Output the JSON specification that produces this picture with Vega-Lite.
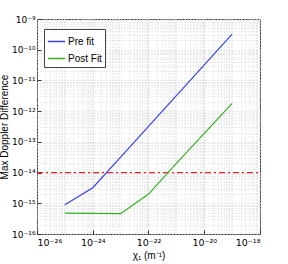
{
  "$schema": "https://vega.github.io/schema/vega-lite/v6.json",
  "autosize": "none",
  "width": 223,
  "height": 215,
  "padding": {"left": 37, "top": 19, "right": 28, "bottom": 30},
  "background": "white",
  "config": {
    "font": "Liberation Sans",
    "view": {"stroke": "#333333", "strokeWidth": 1}
  },
  "datasets": {
    "curves": [
      {"x": 1e-25, "y": 9e-16, "series": "Pre fit"},
      {"x": 1e-24, "y": 3.2e-15, "series": "Pre fit"},
      {"x": 1e-23, "y": 3.2e-14, "series": "Pre fit"},
      {"x": 1e-22, "y": 3.2e-13, "series": "Pre fit"},
      {"x": 1e-21, "y": 3.2e-12, "series": "Pre fit"},
      {"x": 1e-20, "y": 3.2e-11, "series": "Pre fit"},
      {"x": 1e-19, "y": 3.2e-10, "series": "Pre fit"},
      {"x": 1e-25, "y": 4.8e-16, "series": "Post Fit"},
      {"x": 1e-24, "y": 4.7e-16, "series": "Post Fit"},
      {"x": 1e-23, "y": 4.6e-16, "series": "Post Fit"},
      {"x": 1e-22, "y": 2e-15, "series": "Post Fit"},
      {"x": 1e-21, "y": 2e-14, "series": "Post Fit"},
      {"x": 1e-20, "y": 1.9e-13, "series": "Post Fit"},
      {"x": 1e-19, "y": 1.8e-12, "series": "Post Fit"}
    ],
    "threshold": [
      {"x": 1e-26, "y": 1e-14},
      {"x": 1e-18, "y": 1e-14}
    ]
  },
  "layer": [
    {
      "data": {"name": "threshold"},
      "mark": {"type": "line", "color": "#ee2222", "strokeWidth": 1.2, "strokeDash": [6, 3, 2, 3], "clip": true},
      "encoding": {
        "x": {
          "field": "x", "type": "quantitative",
          "scale": {"type": "log", "domain": [1e-26, 1e-18], "nice": false},
          "axis": {
            "title": "χ₁ (m⁻¹)",
            "titleFont": "Liberation Sans", "titleFontSize": 10, "titleFontWeight": "normal", "titleColor": "#000",
            "titlePadding": 0,
            "values": [1e-26, 2e-26, 3e-26, 4e-26, 5e-26, 6e-26, 7e-26, 8e-26, 9e-26,
                       1e-25, 2e-25, 3e-25, 4e-25, 5e-25, 6e-25, 7e-25, 8e-25, 9e-25,
                       1e-24, 2e-24, 3e-24, 4e-24, 5e-24, 6e-24, 7e-24, 8e-24, 9e-24,
                       1e-23, 2e-23, 3e-23, 4e-23, 5e-23, 6e-23, 7e-23, 8e-23, 9e-23,
                       1e-22, 2e-22, 3e-22, 4e-22, 5e-22, 6e-22, 7e-22, 8e-22, 9e-22,
                       1e-21, 2e-21, 3e-21, 4e-21, 5e-21, 6e-21, 7e-21, 8e-21, 9e-21,
                       1e-20, 2e-20, 3e-20, 4e-20, 5e-20, 6e-20, 7e-20, 8e-20, 9e-20,
                       1e-19, 2e-19, 3e-19, 4e-19, 5e-19, 6e-19, 7e-19, 8e-19, 9e-19,
                       1e-18],
            "labelExpr": "(abs(log(datum.value)/LN10 - round(log(datum.value)/LN10)) < 0.01) && (round(-log(datum.value)/LN10) % 2 == 0) ? '10⁻' + replace(replace(replace(replace(replace(replace(replace(replace(replace(replace(toString(round(-log(datum.value)/LN10)), regexp('0','g'), '⁰'), regexp('1','g'), '¹'), regexp('2','g'), '²'), regexp('3','g'), '³'), regexp('4','g'), '⁴'), regexp('5','g'), '⁵'), regexp('6','g'), '⁶'), regexp('7','g'), '⁷'), regexp('8','g'), '⁸'), regexp('9','g'), '⁹') : ''",
            "labelOverlap": false,
            "labelFont": "DejaVu Sans",
            "labelFontSize": 9.5, "labelColor": "#000", "labelPadding": 7,
            "domain": false,
            "ticks": true,
            "tickColor": "#333",
            "tickSize": {"condition": {"test": "(abs(log(datum.value)/LN10 - round(log(datum.value)/LN10)) < 0.01) && (round(-log(datum.value)/LN10) % 2 == 0)", "value": -4}, "value": 0},
            "grid": true,
            "gridColor": {"condition": {"test": "(abs(log(datum.value)/LN10 - round(log(datum.value)/LN10)) < 0.01) && (round(-log(datum.value)/LN10) % 2 == 0)", "value": "#bbbbbb"}, "value": "#dddddd"},
            "gridDash": [1, 2],
            "gridWidth": 1
          }
        },
        "y": {
          "field": "y", "type": "quantitative",
          "scale": {"type": "log", "domain": [1e-16, 1e-9], "nice": false},
          "axis": {
            "title": "Max Doppler Difference",
            "titleFont": "Liberation Sans", "titleFontSize": 10, "titleFontWeight": "normal", "titleColor": "#000",
            "titlePadding": 2,
            "values": [1e-16, 2e-16, 3e-16, 4e-16, 5e-16, 6e-16, 7e-16, 8e-16, 9e-16,
                       1e-15, 2e-15, 3e-15, 4e-15, 5e-15, 6e-15, 7e-15, 8e-15, 9e-15,
                       1e-14, 2e-14, 3e-14, 4e-14, 5e-14, 6e-14, 7e-14, 8e-14, 9e-14,
                       1e-13, 2e-13, 3e-13, 4e-13, 5e-13, 6e-13, 7e-13, 8e-13, 9e-13,
                       1e-12, 2e-12, 3e-12, 4e-12, 5e-12, 6e-12, 7e-12, 8e-12, 9e-12,
                       1e-11, 2e-11, 3e-11, 4e-11, 5e-11, 6e-11, 7e-11, 8e-11, 9e-11,
                       1e-10, 2e-10, 3e-10, 4e-10, 5e-10, 6e-10, 7e-10, 8e-10, 9e-10,
                       1e-9],
            "labelExpr": "(abs(log(datum.value)/LN10 - round(log(datum.value)/LN10)) < 0.01) ? '10⁻' + replace(replace(replace(replace(replace(replace(replace(replace(replace(replace(toString(round(-log(datum.value)/LN10)), regexp('0','g'), '⁰'), regexp('1','g'), '¹'), regexp('2','g'), '²'), regexp('3','g'), '³'), regexp('4','g'), '⁴'), regexp('5','g'), '⁵'), regexp('6','g'), '⁶'), regexp('7','g'), '⁷'), regexp('8','g'), '⁸'), regexp('9','g'), '⁹') : ''",
            "labelOverlap": false,
            "labelFont": "DejaVu Sans",
            "labelFontSize": 9, "labelColor": "#000", "labelPadding": 6,
            "domain": false,
            "tickColor": "#333",
            "tickSize": {"condition": {"test": "abs(log(datum.value)/LN10 - round(log(datum.value)/LN10)) < 0.01", "value": -4}, "value": 0},
            "grid": true,
            "gridColor": "#d8d8d8",
            "gridDash": [1, 2],
            "gridWidth": 1
          }
        }
      }
    },
    {
      "data": {"name": "curves"},
      "mark": {"type": "line", "strokeWidth": 1.2},
      "encoding": {
        "x": {"field": "x", "type": "quantitative"},
        "y": {"field": "y", "type": "quantitative"},
        "color": {
          "field": "series", "type": "nominal",
          "scale": {"domain": ["Pre fit", "Post Fit"], "range": ["#3344f0", "#33b022"]},
          "legend": {
            "title": null,
            "orient": "none",
            "legendX": 7,
            "legendY": 10,
            "direction": "vertical",
            "symbolType": "stroke",
            "symbolSize": 300,
            "symbolStrokeWidth": 1.5,
            "labelFontSize": 10,
            "labelColor": "#000",
            "labelFont": "Liberation Sans",
            "fillColor": "white",
            "strokeColor": "#444",
            "padding": 3,
            "rowPadding": 2,
            "labelOffset": 2
          }
        }
      }
    }
  ]
}
